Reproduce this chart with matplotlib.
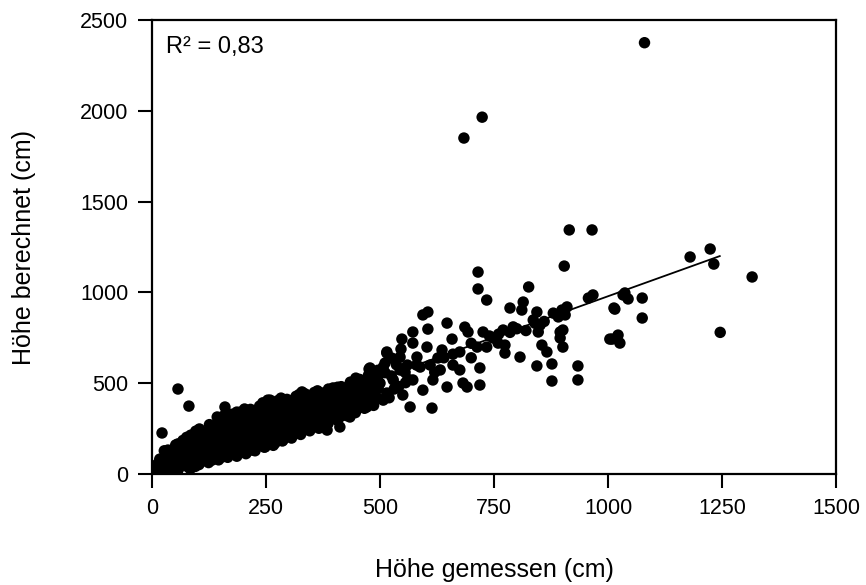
import matplotlib
matplotlib.use("Agg")
import matplotlib.pyplot as plt

plt.rcParams['font.family'] = ['Liberation Sans', 'DejaVu Sans']

# outliers and sparse points on the right (x = gemessen, y = berechnet)
right_x = [1080, 684, 724, 915, 965, 904, 826, 1316, 1180, 1224, 1232, 1246,
           785, 814, 811, 844, 836, 880, 899, 910, 891, 967, 957, 1037, 1013,
           770, 792, 847, 851, 895, 895, 901, 855, 866, 774, 774, 807, 844,
           877, 877, 934, 934, 1009, 1022, 1026, 1033, 1044, 1075, 1015, 1075,
           1004, 906, 901, 715, 715, 734]
right_y = [2375, 1850, 1965, 1344, 1344, 1145, 1030, 1085, 1195, 1239, 1156, 780,
           914, 947, 903, 892, 848, 886, 903, 920, 865, 986, 969, 997, 914,
           793, 810, 782, 820, 782, 749, 699, 710, 672, 710, 666, 644, 595,
           606, 512, 595, 518, 743, 765, 721, 986, 964, 969, 908, 859,
           743, 876, 793, 1112, 1019, 958]

# middle part, 500-860 cm
mid_x = [605, 594, 647, 605, 686, 572, 548, 658, 693, 726, 748, 515, 572, 603,
         636, 544, 581, 627, 675, 713, 734, 759, 507, 544, 588, 632, 675, 719,
         529, 572, 616, 647, 682, 719, 515, 550, 594, 566, 614, 691,
         500, 525, 555, 580, 610, 640, 660, 700, 740, 760, 785, 800, 820, 840,
         860, 700, 660, 620, 560,
         520, 531, 541, 556, 511, 536, 561, 526, 546]
mid_y = [892, 876, 831, 798, 809, 782, 743, 743, 782, 782, 749, 672, 721, 699,
         683, 644, 644, 639, 672, 699, 699, 721, 589, 573, 589, 573, 573, 584,
         518, 518, 518, 479, 501, 490, 446, 435, 462, 369, 363, 479,
         500, 540, 560, 600, 600, 640, 660, 720, 760, 770, 780, 800, 790, 830,
         840, 640, 600, 560, 600,
         420, 468, 482, 503, 558, 602, 522, 638, 688]

# dense band 0-520 cm
band_x = [57, 81, 22, 160, 143, 127, 186, 204, 175, 237, 254, 232, 197, 160,
          110, 88, 66, 35, 22, 7, 44, 72, 101, 132, 167, 204, 241, 263, 79, 57,
          29, 94, 132, 154, 189, 219, 248, 270, 116, 167, 204, 226,
          515, 476, 511, 496, 507, 456, 434, 412, 390, 368, 329, 346, 309, 287,
          259, 265, 243, 281, 318, 353, 390, 419, 441, 471, 485, 471, 434, 406,
          368, 346, 309, 274, 252, 243, 265, 287, 325, 384, 412,
          373, 397, 456, 412, 375, 390, 478]
band_y = [468, 374, 226, 369, 314, 253, 341, 336, 297, 352, 407, 286, 259, 242,
          187, 171, 149, 132, 77, 39, 77, 94, 116, 132, 149, 171, 187, 204, 39, 22,
          22, 61, 77, 94, 116, 132, 149, 171, 215, 231, 226, 242,
          666, 578, 611, 501, 407, 507, 462, 435, 435, 424, 452, 407, 407, 391,
          407, 352, 352, 314, 314, 336, 369, 336, 391, 446, 407, 369, 314, 297,
          297, 270, 259, 281, 259, 198, 171, 187, 242, 242, 259,
          435, 474, 518, 314, 297, 352, 584]

fill_x = [8, 12, 28, 33, 27, 46, 43, 48, 52, 63, 67, 62, 68, 84, 87, 82, 88, 85,
          103, 107, 102, 108, 104, 124, 127, 122, 128, 126, 146, 143, 148, 144,
          147, 166, 163, 168, 164, 167, 163, 186, 184, 188, 183, 187, 206, 203,
          208, 204, 207, 203, 226, 223, 228, 224, 227, 246, 243, 248, 244, 247,
          243, 266, 263, 268, 264, 267, 286, 283, 288, 284, 287, 283, 306, 303,
          308, 304, 307, 326, 323, 328, 324, 327, 323, 346, 343, 348, 344, 347,
          366, 363, 368, 364, 367, 363, 386, 383, 388, 384, 387, 406, 403, 408,
          404, 407, 426, 423, 428, 424, 446, 443, 448, 444, 447, 466, 463, 468,
          464, 486, 483, 488, 484, 487]
fill_y = [12, 55, 35, 88, 128, 18, 72, 115, 160, 45, 95, 138, 185, 28, 82, 128,
          176, 214, 52, 98, 148, 203, 248, 63, 112, 158, 208, 272, 78, 128, 183,
          232, 286, 92, 138, 193, 243, 302, 338, 98, 152, 198, 262, 308, 112,
          158, 213, 268, 318, 358, 128, 182, 228, 292, 338, 148, 202, 252, 298,
          358, 392, 158, 213, 258, 322, 368, 182, 228, 282, 338, 388, 418, 198,
          252, 302, 348, 398, 218, 272, 318, 372, 418, 438, 238, 292, 338, 392,
          428, 252, 302, 348, 402, 438, 458, 278, 332, 378, 428, 468, 302, 348,
          402, 448, 478, 322, 368, 418, 472, 338, 392, 438, 492, 528, 362, 408,
          458, 512, 378, 432, 478, 528, 562]

fill2_x = [18, 17, 38, 39, 57, 56, 58, 57, 76, 77, 75, 76, 95, 96, 94, 95, 96,
           115, 114, 116, 115, 135, 136, 134, 135, 155, 156, 154, 155, 156,
           175, 176, 174, 175, 176, 195, 194, 196, 195, 194, 215, 216, 214, 215,
           216, 235, 236, 234, 235, 236, 255, 256, 254, 255, 256, 275, 276, 274,
           275, 276, 295, 296, 294, 295, 296, 315, 316, 314, 315, 316, 335, 336,
           334, 335, 336, 355, 356, 354, 355, 356, 375, 376, 374, 375, 395, 396,
           394, 395, 415, 416, 414, 415, 435, 436, 434, 435, 455, 456, 454, 455,
           475, 476, 474, 475, 495, 496, 494, 495]
fill2_y = [30, 82, 50, 101, 25, 71, 118, 166, 61, 108, 158, 202, 42, 91, 139,
           192, 236, 74, 127, 181, 228, 96, 149, 202, 254, 104, 166, 214, 266,
           318, 121, 171, 224, 282, 329, 131, 186, 238, 291, 341, 146, 198, 252,
           304, 356, 164, 216, 271, 318, 374, 176, 233, 287, 341, 393, 196, 248,
           302, 354, 404, 214, 266, 318, 371, 411, 236, 284, 336, 389, 428, 254,
           306, 356, 404, 441, 266, 318, 371, 419, 449, 291, 341, 388, 446, 309,
           362, 411, 458, 331, 384, 436, 481, 346, 401, 453, 506, 369, 421, 474,
           521, 391, 444, 496, 546, 418, 471, 522, 571]

# regression line ends
fit_x = [15, 1245]
fit_y = [90, 1200]

fig = plt.figure(figsize=(8.66, 5.85), dpi=100)
ax = fig.add_axes([0.1755, 0.1897, 0.7899, 0.7761])

groups = [(band_x, band_y), (fill_x, fill_y), (fill2_x, fill2_y),
          (mid_x, mid_y), (right_x, right_y)]
for xs, ys in groups:
    ax.scatter(xs, ys, s=68, c='black', edgecolors='none', zorder=3)
ax.plot(fit_x, fit_y, color='black', lw=1.3, zorder=4)

ax.set_xlim(0, 1500)
ax.set_ylim(0, 2500)
ax.set_xticks([0, 250, 500, 750, 1000, 1250, 1500])
ax.set_yticks([0, 500, 1000, 1500, 2000, 2500])
ax.tick_params(direction='out', length=10, width=1.5, labelsize=15.5, pad=7)
for sp in ax.spines.values():
    sp.set_linewidth(1.6)

ax.set_xlabel('Höhe gemessen (cm)', fontsize=18, labelpad=28)
ax.set_ylabel('Höhe berechnet (cm)', fontsize=18, labelpad=32)
ax.text(0.02, 0.965, 'R² = 0,83', transform=ax.transAxes, fontsize=17,
        va='top', ha='left')

fig.savefig('out.png', dpi=100)
